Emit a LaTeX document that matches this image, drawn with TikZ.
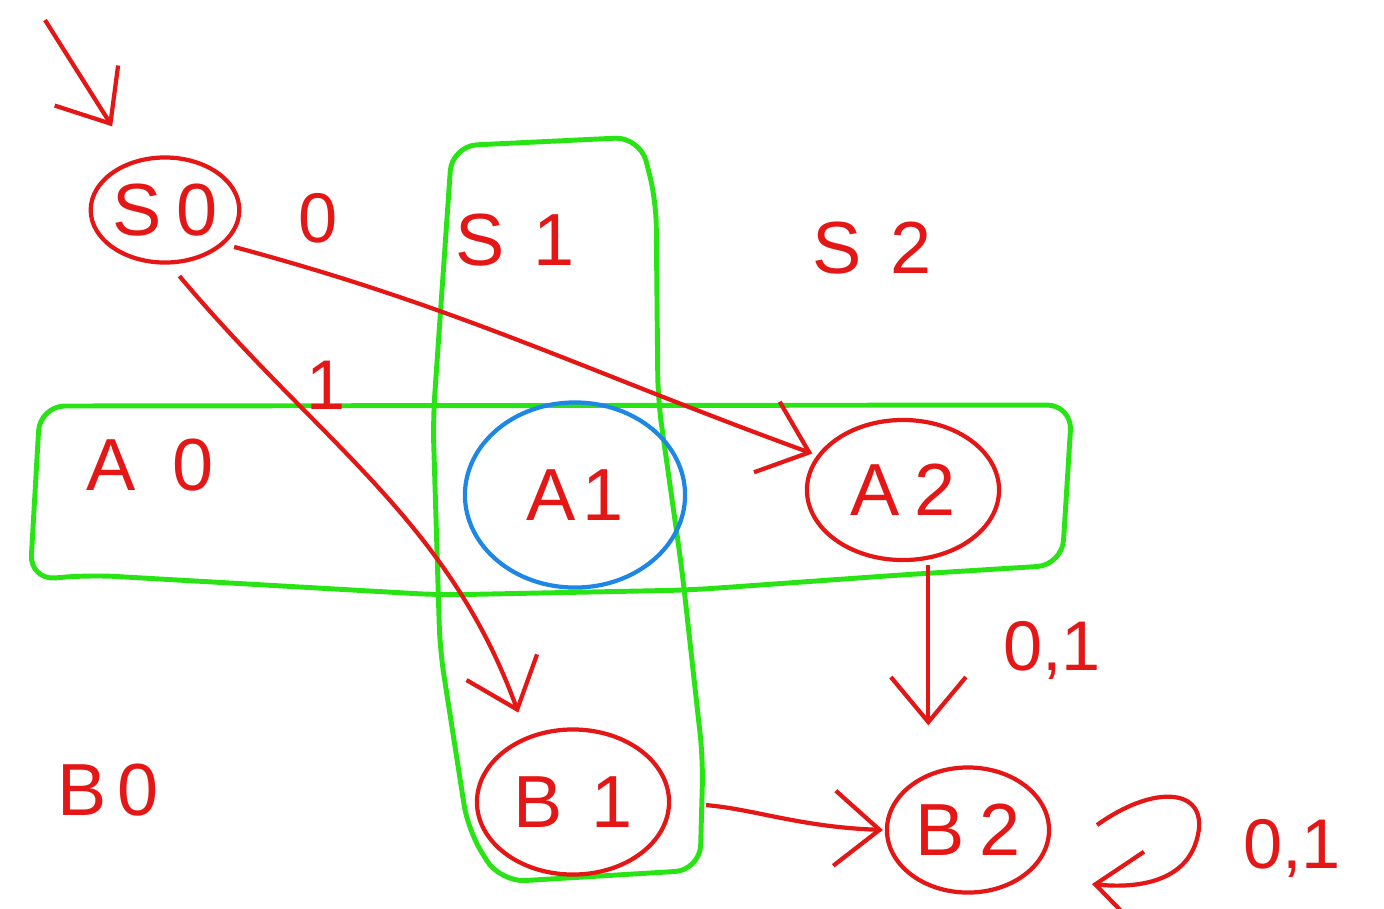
\documentclass[tikz,border=0pt]{standalone}
\usepackage{fontspec}
\setmainfont{Liberation Sans}
\usetikzlibrary{shapes.geometric,arrows.meta}
\definecolor{pen}{RGB}{228,22,22}
\definecolor{hl}{RGB}{40,228,20}
\definecolor{blu}{RGB}{30,135,230}
\tikzset{
  x=0.01cm,y=-0.01cm,
  txt/.style={text=pen,font=\fontsize{21}{25}\selectfont,inner sep=0pt},
  lbl/.style={text=pen,font=\fontsize{20}{24}\selectfont,inner sep=0pt},
  st/.style={ellipse,draw=pen,line width=1.2pt,text=pen,font=\fontsize{21}{25}\selectfont,inner sep=0pt},
  edge/.style={draw=pen,line width=1.2pt,-{Straight Barb[length=0.45cm,width=0.75cm]}},
  grp/.style={draw=hl,line width=1.4pt,rounded corners=0.25cm}
}
\begin{document}
\begin{tikzpicture}
\useasboundingbox (0,0) rectangle (1384,908);
% green groups
\draw[grp] (452,146) -- (640,137) -- (656,200) -- (658,400) -- (682,570) -- (703,760) -- (700,870) -- (500,882) -- (468,830) -- (440,650) -- (433,420) -- cycle;
\draw[grp] (40,406) -- (1072,405) -- (1062,565) -- (900,575) -- (690,590) -- (440,595) -- (90,575) -- (30,580) -- cycle;
% states
\node[st,minimum width=1.42cm,minimum height=1.05cm] (S0) at (165,210) {S\hspace{0.2em}0};
\node[st,draw=blu,minimum width=2.2cm,minimum height=1.85cm] (A1) at (575,495) {A\hspace{0.1em}1};
\node[st,minimum width=1.92cm,minimum height=1.4cm] (A2) at (903,490) {A\hspace{0.2em}2};
\node[st,minimum width=1.92cm,minimum height=1.45cm] (B1) at (573,802) {B\hspace{0.4em}1};
\node[st,minimum width=1.62cm,minimum height=1.25cm] (B2) at (968,830) {B\hspace{0.2em}2};
% plain labels
\node[txt] (S1) at (515,240) {S\hspace{0.4em}1};
\node[txt] (S2) at (872,248) {S\hspace{0.4em}2};
\node[txt] (A0) at (150,465) {A\hspace{0.5em}0};
\node[txt] (B0) at (108,790) {B\hspace{0.15em}0};
\node[lbl] (l0) at (318,218) {0};
\node[lbl] (l1) at (326,385) {1};
\node[lbl] (l01a) at (1052,650) {0,1};
\node[lbl] (l01b) at (1292,848) {0,1};
% connectors
\coordinate (init) at (45,20);
\draw[edge,shorten >=0.4cm] (init) -- (S0);
\draw[edge,shorten <=0.1cm,shorten >=0.05cm] (S0.-30) to[out=-15,in=160] (A2.158);
\draw[edge,shorten <=0.15cm,shorten >=0.25cm] (S0.-85) to[out=-50,in=110] (B1.125);
\draw[edge,shorten <=0.05cm,shorten >=0.4cm] (A2.-70) -- (A2.-70 |- B2.north);
\draw[edge,shorten <=0.35cm,shorten >=0.02cm] (B1.east) to[out=-5,in=178] (B2.west);
\coordinate (loopA) at (1097,825);
\coordinate (loopB) at (1092,884);
\draw[edge] (loopA) .. controls (1160,780) and (1215,790) .. (1195,845) .. controls (1180,885) and (1130,888) .. (loopB);
\end{tikzpicture}
\end{document}
